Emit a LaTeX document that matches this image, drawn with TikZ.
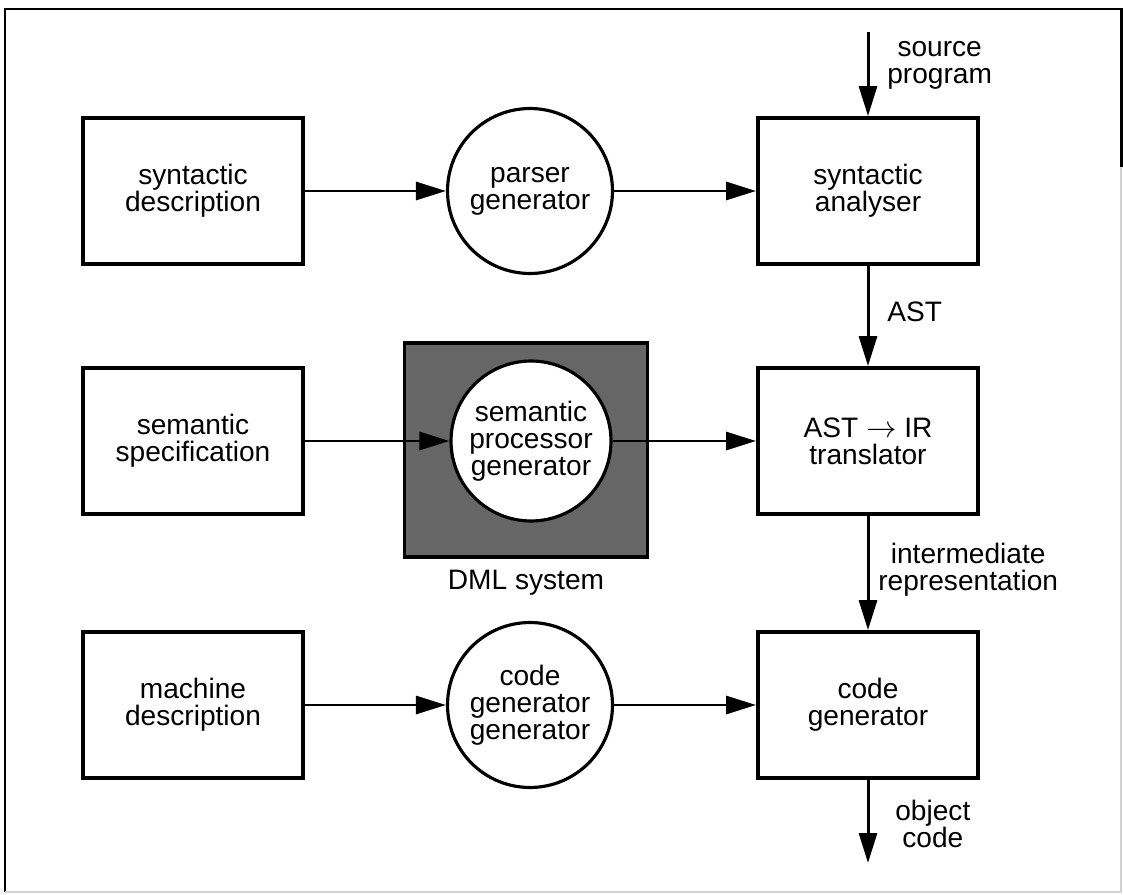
\documentclass[tikz,border=0pt]{standalone}
\usepackage{fontspec}
\setmainfont{Liberation Sans}
\usetikzlibrary{positioning,arrows.meta,shapes.geometric}
\newcommand{\lblfont}{\fontsize{16}{15.5}\selectfont}

\begin{document}
\begin{tikzpicture}[
    x=0.02cm, y=-0.02cm,
    box/.style={rectangle, draw, line width=2.2pt, minimum width=4.4cm,
                minimum height=2.92cm, align=center, font=\lblfont},
    gen/.style={circle, draw, line width=1.8pt, fill=white, minimum size=3.3cm,
                inner sep=0pt, align=center, font=\lblfont},
    dmlbox/.style={rectangle, draw, line width=2pt, fill=black!60,
                   minimum width=4.86cm, minimum height=4.28cm},
    flow/.style={line width=1.7pt, -{Triangle[length=0.6cm, width=0.36cm]}},
    lbl/.style={align=center, font=\lblfont, inner sep=0pt},
]
\useasboundingbox (0,0) rectangle (1123,895);

% Frame
\draw[line width=1.7pt] (5,892) -- (5,9) -- (1121,9) -- (1121,167);
\draw[gray!35, line width=0.6pt] (1121,167) -- (1121,892) -- (5,892);

% Specifications (left column)
\node[box] (syndesc) at (193,191) {syntactic\\description};
\node[box] (semspec) at (193,441) {semantic\\specification};
\node[box] (machdesc) at (193,705) {machine\\description};

% Generators (middle column)
\node[dmlbox] (dml) at (526,450) {};
\node[lbl] (dmllbl) at (526,583) {DML system};
\node[gen] (parsegen) at (530,191) {parser\\generator};
\node[gen, minimum size=3.2cm] (semgen) at (531,441) {semantic\\processor\\generator};
\node[gen] (codegengen) at (530,705) {code\\generator\\generator};

% Compiler phases (right column)
\node[box] (synan) at (868,191) {syntactic\\analyser};
\node[box] (trans) at (868,441) {AST \(\rightarrow\) IR\\translator};
\node[box] (codegen) at (868,705) {code\\generator};

% In and out
\coordinate (src) at (868,32);
\coordinate (obj) at (868,863);
\node[lbl, anchor=west] (srclbl) at (887,65) {source\\program};
\node[lbl, anchor=west] (astlbl) at (887,312) {AST};
\node[lbl, anchor=west] (irlbl) at (878,570) {intermediate\\representation};
\node[lbl, anchor=west] (objlbl) at (895,824) {object\\code};

% Connectors
\draw[flow] (syndesc) -- (parsegen);
\draw[flow] (parsegen) -- (synan);
\draw[flow] (semspec) -- (semgen);
\draw[flow] (semgen) -- (trans);
\draw[flow] (machdesc) -- (codegengen);
\draw[flow] (codegengen) -- (codegen);
\draw[flow] (src) -- (synan);
\draw[flow] (synan) -- (trans);
\draw[flow] (trans) -- (codegen);
\draw[flow] (codegen) -- (obj);
\end{tikzpicture}
\end{document}
